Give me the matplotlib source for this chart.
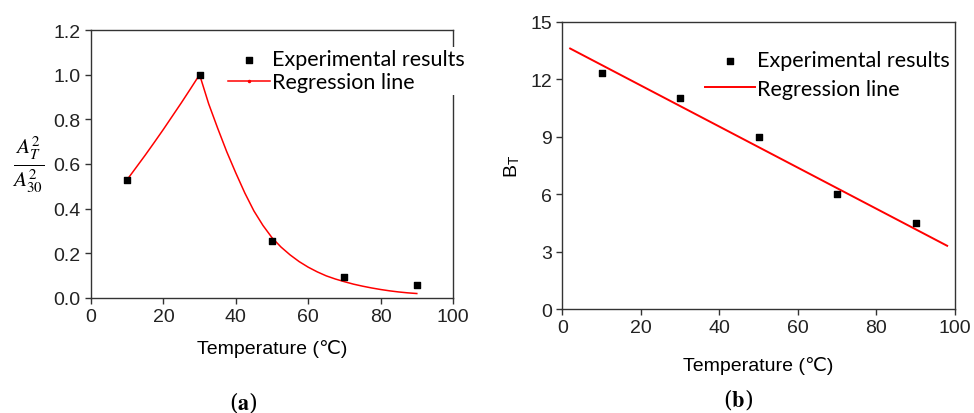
import matplotlib.pyplot as plt

# panel (a): normalised amplitude ratio
temp_a = [10, 30, 50, 70, 90]
ratio_a = [0.53, 1.0, 0.255, 0.093, 0.06]
# regression curve
curve_x = [10, 12.5, 15, 17.5, 20, 22.5, 25, 27.5, 30,
           32.5, 35, 37.5, 40, 42.5, 45, 47.5, 50, 52.5, 55, 57.5, 60,
           62.5, 65, 67.5, 70, 72.5, 75, 77.5, 80, 82.5, 85, 87.5, 90]
curve_y = [0.53, 0.585, 0.64, 0.697, 0.755, 0.815, 0.875, 0.937, 1.0,
           0.87, 0.76, 0.655, 0.56, 0.47, 0.39, 0.325, 0.27, 0.228, 0.193,
           0.163, 0.138, 0.117, 0.099, 0.085, 0.073, 0.062, 0.053, 0.045,
           0.038, 0.032, 0.027, 0.023, 0.02]

# panel (b): B_T
temp_b = [10, 30, 50, 70, 90]
bt_b = [12.3, 11.0, 9.0, 6.0, 4.5]
line_x = [2, 98]
line_y = [13.6, 3.3]

plt.rcParams['font.family'] = ['Liberation Sans', 'DejaVu Sans']
plt.rcParams['mathtext.fontset'] = 'stix'

fig = plt.figure(figsize=(9.74, 4.14), dpi=100)
ax1 = fig.add_axes([0.0934, 0.2778, 0.3717, 0.6473])
ax2 = fig.add_axes([0.5773, 0.2512, 0.4032, 0.694])

leg_font = {'family': ['Lato', 'DejaVu Sans'], 'size': 15.5}
spine_col = '#333333'

for ax in (ax1, ax2):
    for s in ax.spines.values():
        s.set_color(spine_col)
        s.set_linewidth(1.0)
    ax.tick_params(direction='out', length=4, width=1, color=spine_col,
                   labelsize=14, labelcolor='#222222', top=False, right=False)
    ax.set_xlim(0, 100)
    ax.set_xticks(range(0, 101, 20))

# (a)
ax1.plot(curve_x, curve_y, color='red', lw=1.1, label='Regression line')
ax1.scatter(temp_a, ratio_a, marker='s', s=18, color='black', zorder=3,
            label='Experimental results')
ax1.set_ylim(0, 1.2)
ax1.set_yticks([0.0, 0.2, 0.4, 0.6, 0.8, 1.0, 1.2])
ax1.set_yticklabels(['0.0', '0.2', '0.4', '0.6', '0.8', '1.0', '1.2'])
ax1.set_xlabel('Temperature (℃)', fontsize=14, labelpad=10)
ax1.set_ylabel(r'$\frac{A_T^2}{A_{30}^2}$', fontsize=22, rotation=0,
               labelpad=18, va='center')
h, l = ax1.get_legend_handles_labels()
leg1 = ax1.legend(h[::-1], l[::-1], loc='upper left',
                  bbox_to_anchor=(226 / 974, 1 - 48 / 414),
                  bbox_transform=fig.transFigure, prop=leg_font,
                  frameon=True, facecolor='white', edgecolor='none',
                  framealpha=1, handlelength=1.95, handletextpad=0.1,
                  labelspacing=0.15, borderpad=0.1, borderaxespad=0,
                  fancybox=False)
leg1.get_lines()[0].set_marker('.')
leg1.get_lines()[0].set_markersize(3)

# (b)
ax2.plot(line_x, line_y, color='red', lw=1.4, label='Regression line')
ax2.scatter(temp_b, bt_b, marker='s', s=22, color='black', zorder=3,
            label='Experimental results')
ax2.set_ylim(0, 15)
ax2.set_yticks([0, 3, 6, 9, 12, 15])
ax2.set_xlabel('Temperature (℃)', fontsize=14, labelpad=14)
ax2.set_ylabel(r'B$_\mathregular{T}$', fontsize=14, labelpad=6)
h, l = ax2.get_legend_handles_labels()
ax2.legend(h[::-1], l[::-1], loc='upper left',
           bbox_to_anchor=(703 / 974, 1 - 49 / 414),
           bbox_transform=fig.transFigure, prop=leg_font,
           frameon=True, facecolor='white', edgecolor='none',
           framealpha=1, handlelength=2.3, handletextpad=0.1,
           labelspacing=0.4, borderpad=0.1, borderaxespad=0,
           fancybox=False)

fig.text(243 / 974, 1 - 403 / 414, r'($\mathbf{a}$)', fontsize=16,
         ha='center', va='center', family='DejaVu Serif')
fig.text(738 / 974, 1 - 400 / 414, r'($\mathbf{b}$)', fontsize=16,
         ha='center', va='center', family='DejaVu Serif')

plt.savefig('out.png', dpi=100)
